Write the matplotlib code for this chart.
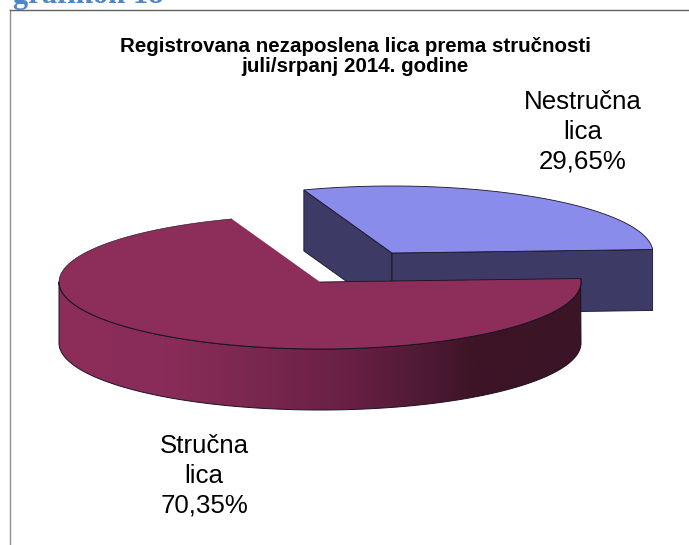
import numpy as np
import matplotlib
matplotlib.use("Agg")
import matplotlib.pyplot as plt
from matplotlib.colors import LinearSegmentedColormap
from matplotlib.patches import Polygon

plt.rcParams['font.family'] = ['Liberation Sans', 'DejaVu Sans']

categories = ["Nestručna\nlica", "Stručna\nlica"]
shares = [29.65, 70.35]
value_labels = ["29,65%", "70,35%"]
title = "Registrovana nezaposlena lica prema stručnosti\njuli/srpanj 2014. godine"
heading = "grafikon 18"

W, H = 689, 545
fig = plt.figure(figsize=(W / 100, H / 100), dpi=100)
ax = fig.add_axes([0, 0, 1, 1])
ax.set_xlim(0, W)
ax.set_ylim(H, 0)
ax.axis("off")

A, B, DEPTH = 261, 67, 61
START = 3.0
blue_c = (392, 253)
red_c = (320, 282)
EDGE = "#1a1226"


def arc(c, t0, t1, n=200):
    t = np.radians(np.linspace(t0, t1, n))
    return np.column_stack([c[0] + A * np.cos(t), c[1] - B * np.sin(t)])


blue_end = START + shares[0] * 3.6
down = np.array([0, DEPTH])

# blue slice
ba = arc(blue_c, START, blue_end)
apex = np.array(blue_c, float)
for p, q in [(ba[-1], apex), (apex, ba[0])]:
    ax.add_patch(Polygon([p, q, q + down, p + down], fc="#3d3b66", ec=EDGE, lw=0.6, zorder=2))
ax.add_patch(Polygon(np.vstack([[apex], ba]), fc="#8a8cec", ec=EDGE, lw=0.6, zorder=3))

# red slice: side wall with horizontal gradient
ra = arc(red_c, blue_end, 360 + START, 500)
front = arc(red_c, 180, 360 + START, 300)
floor = arc(red_c, 180, 360, 300) + down
outline = np.vstack([front, floor[::-1]])
side = Polygon(outline, fc="none", ec="none", zorder=4)
ax.add_patch(side)
cmap = LinearSegmentedColormap.from_list(
    "side", [(0, "#8c2d5a"), (0.2, "#8a2c59"), (0.35, "#7c2850"), (0.55, "#6a2045"),
             (0.7, "#4e1a33"), (0.8, "#3d1426"), (1, "#3b1426")])
im = ax.imshow(np.linspace(0, 1, 256)[None, :], cmap=cmap, aspect="auto",
               extent=(red_c[0] - A, red_c[0] + A, H, 0), zorder=4)
im.set_clip_path(side)
ax.set_xlim(0, W)
ax.set_ylim(H, 0)
ax.add_patch(Polygon(outline, fc="none", ec=EDGE, lw=0.7, zorder=5))
ax.add_patch(Polygon(np.vstack([[red_c], ra]), fc="#8c2d5a", ec="none", zorder=6))
ax.plot(*front.T, color=EDGE, lw=0.7, zorder=7)
ax.plot(*arc(red_c, blue_end, 180).T, color=EDGE, lw=0.4, zorder=7)
ax.plot(*np.vstack([[red_c], ra[-1:]]).T, color=EDGE, lw=0.6, zorder=7)

# text
ax.text(355, 56.5, title, ha="center", va="center", fontsize=14.8, fontweight="bold",
        color="black", linespacing=1.12, zorder=8)
ax.text(583, 132, f"{categories[0]}\n{value_labels[0]}", ha="center", va="center",
        fontsize=18.6, color="black", linespacing=1.29, zorder=8)
ax.text(204, 476, f"{categories[1]}\n{value_labels[1]}", ha="center", va="center",
        fontsize=18.6, color="black", linespacing=1.29, zorder=8)
ax.text(13, 3, heading, ha="left", va="baseline", fontsize=22, fontweight="bold",
        family=["Liberation Serif"], color="#4f86c6", zorder=8)

# frame
ax.plot([9.5, 9.5], [545, 9.5], color="#909090", lw=1, zorder=1)
ax.plot([9.5, 689], [9.5, 9.5], color="#606060", lw=1, zorder=1)

fig.savefig("out.png", dpi=100)
